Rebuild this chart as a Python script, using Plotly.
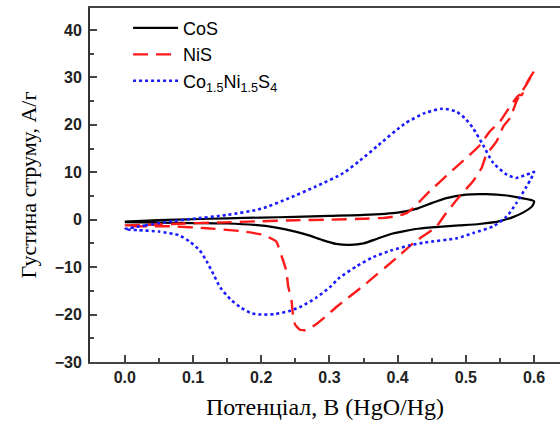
import plotly.graph_objects as go

# Cyclic voltammograms: forward (anodic) sweep to 0.6 V, then reverse sweep back
cos_x = [0, 0.05, 0.1, 0.15, 0.2, 0.25, 0.3, 0.35, 0.4, 0.43, 0.45, 0.47, 0.5, 0.53, 0.56, 0.58, 0.6,
         0.597, 0.585, 0.57, 0.55, 0.52, 0.49, 0.46, 0.43, 0.41, 0.39, 0.37, 0.35, 0.33, 0.31, 0.29,
         0.27, 0.25, 0.22, 0.19, 0.15, 0.1, 0.05, 0]
cos_y = [-0.4, -0.1, 0.1, 0.3, 0.45, 0.6, 0.8, 1.0, 1.5, 2.4, 3.5, 4.5, 5.3, 5.4, 5.1, 4.6, 3.9,
         2.8, 1.6, 0.6, -0.3, -0.9, -1.2, -1.5, -1.9, -2.4, -3.0, -4.0, -5.0, -5.3, -5.1, -4.3,
         -3.3, -2.5, -1.6, -1.1, -0.8, -0.7, -0.6, -0.5]

nis_x = [0, 0.07, 0.144, 0.193, 0.25, 0.3, 0.35, 0.38, 0.4, 0.413, 0.423, 0.447, 0.481, 0.506,
         0.521, 0.535, 0.55, 0.565, 0.574, 0.578, 0.582, 0.59, 0.6,
         0.59, 0.575, 0.565, 0.555, 0.545, 0.53, 0.523, 0.511, 0.49, 0.47, 0.457, 0.423, 0.398,
         0.349, 0.311, 0.296, 0.279, 0.265, 0.257, 0.25, 0.247, 0.2445, 0.2395, 0.237, 0.23,
         0.222, 0.203, 0.17, 0.12, 0.07, 0]
nis_y = [-1.2, -0.9, -0.55, -0.35, -0.1, 0.0, 0.2, 0.4, 0.8, 1.4, 2.5, 6.0, 10.5, 13.7,
         15.8, 18.6, 20.7, 23.9, 25.7, 26.3, 26.3, 29.0, 31.3,
         28.8, 25.2, 21.5, 19.7, 16.5, 13.7, 10.9, 8.2, 4.8, 1.2, -1.4, -4.9, -8.1,
         -14.0, -18.3, -20.2, -22.2, -23.3, -23.2, -22.2, -20.7, -17.2, -14.0, -10.9, -7.7,
         -4.6, -3.2, -2.4, -1.8, -1.4, -1.4]

cns_x = [0, 0.03, 0.06, 0.1, 0.15, 0.2, 0.24, 0.28, 0.32, 0.345, 0.37, 0.41, 0.44, 0.466, 0.486,
         0.5, 0.511, 0.525, 0.54, 0.56, 0.574, 0.589, 0.597, 0.6,
         0.595, 0.589, 0.574, 0.56, 0.54, 0.511, 0.487, 0.44, 0.418, 0.39, 0.364, 0.34, 0.315,
         0.3, 0.28, 0.26, 0.24, 0.22, 0.2, 0.185, 0.17, 0.155, 0.14, 0.13, 0.12, 0.11, 0.095,
         0.08, 0.05, 0.02, 0]
cns_y = [-2.0, -1.2, -0.5, 0.2, 1.0, 2.3, 4.5, 7.0, 9.8, 12.5, 15.5, 20.2, 22.5, 23.4, 22.8,
         21.2, 19.2, 15.8, 12.0, 9.5, 8.8, 9.5, 9.9, 10.1,
         8.5, 7.0, 3.5, 0.7, -1.4, -2.8, -3.9, -4.8, -5.4, -6.5, -7.9, -9.8, -12.2,
         -14.3, -16.5, -18.2, -19.3, -19.9, -20.0, -19.7, -18.5, -16.8, -14.3, -11.5, -8.8, -6.5, -4.6,
         -3.3, -2.5, -2.2, -2.0]

x_ticks = [0.0, 0.1, 0.2, 0.3, 0.4, 0.5, 0.6]
x_ticklabels = ["0.0", "0.1", "0.2", "0.3", "0.4", "0.5", "0.6"]
y_ticks = [-30, -20, -10, 0, 10, 20, 30, 40]

fig = go.Figure()
fig.add_trace(go.Scatter(x=cos_x, y=cos_y, mode="lines", name="CoS", legendgroup="cos",
                         line=dict(color="black", width=2.2, shape="spline", smoothing=0.6)))
fig.add_trace(go.Scatter(x=nis_x, y=nis_y, mode="lines", name="NiS", legendgroup="nis",
                         line=dict(color="#ff1a1a", width=2.4, dash="15px,8px", shape="spline", smoothing=0.4)))
fig.add_trace(go.Scatter(x=cns_x, y=cns_y, mode="lines", legendgroup="cns",
                         name="Co<sub>1.5</sub>Ni<sub>1.5</sub>S<sub>4</sub>",
                         line=dict(color="#1a1aff", width=2.6, dash="dot", shape="spline", smoothing=0.6)))

tickfont = dict(family="Liberation Sans", size=16, color="#222", weight="bold")

fig.update_layout(
    width=560, height=432,
    margin=dict(l=90, r=0, t=8, b=70),
    paper_bgcolor="white", plot_bgcolor="white",
    showlegend=True,
    legend=dict(x=0.081, y=0.995, xanchor="left", yanchor="top",
                font=dict(family="Liberation Sans", size=18, color="black"),
                bgcolor="rgba(0,0,0,0)", tracegroupgap=0, itemwidth=45),
    xaxis=dict(range=[-0.051, 0.638], tickvals=x_ticks, ticktext=x_ticklabels,
               ticks="inside", ticklen=7, tickwidth=2, tickcolor="#444",
               minor=dict(dtick=0.05, tick0=0, ticks="inside", ticklen=4, tickwidth=2, tickcolor="#444"),
               showline=True, linecolor="#444", linewidth=2, mirror=True,
               showgrid=False, zeroline=False, tickfont=tickfont,
               title=dict(text="Потенціал, В (HgO/Hg)",
                          font=dict(family="Liberation Serif", size=24, color="black"), standoff=13)),
    yaxis=dict(range=[-30, 44.64], tickvals=y_ticks,
               ticks="inside", ticklen=7, tickwidth=2, tickcolor="#444",
               minor=dict(dtick=5, tick0=0, ticks="inside", ticklen=4, tickwidth=2, tickcolor="#444"),
               showline=True, linecolor="#333", linewidth=2, ticklabelstandoff=3,
               showgrid=False, zeroline=False, tickfont=tickfont,
               title=dict(text="Густина струму, А/г",
                          font=dict(family="Liberation Serif", size=22, color="black"), standoff=12)),
)

fig.write_html("out.html")
